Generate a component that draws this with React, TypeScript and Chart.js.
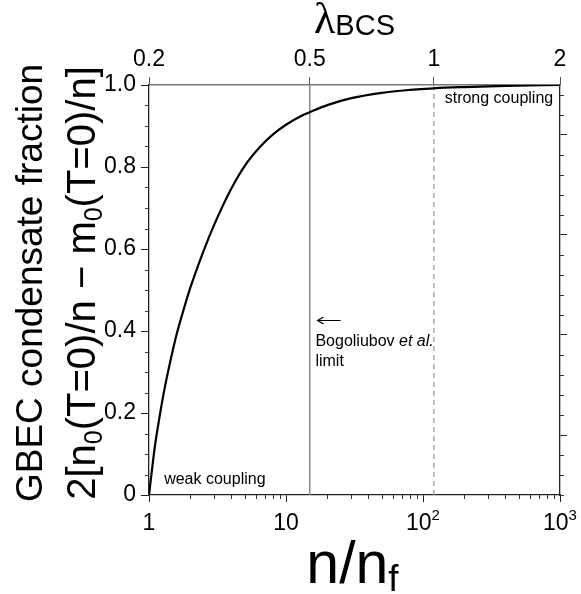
import React, { useEffect, useRef } from 'react';
import { Chart, registerables } from 'chart.js';

Chart.register(...registerables);

// ---- data ----
const nValues = [1, 1.05, 1.1, 1.2, 1.3, 1.45, 1.6, 1.8, 2, 2.5, 3, 4, 5, 6.5, 8, 10, 13, 15, 20, 30, 50, 80, 120, 200, 400, 1000];
const fraction = [0, 0.06, 0.115, 0.195, 0.26, 0.335, 0.395, 0.455, 0.505, 0.595, 0.66, 0.748, 0.803, 0.85, 0.879, 0.903, 0.925, 0.934, 0.951, 0.968, 0.981, 0.988, 0.992, 0.995, 0.998, 1.0];

const xMajorTicks = [1, 10, 100, 1000];
const xTickBase = ['1', '10', '10', '10'];
const xTickExp = ['', '', '2', '3'];
const yMajorTicks = [0, 0.2, 0.4, 0.6, 0.8, 1.0];
const yTickLabels = ['0', '0.2', '0.4', '0.6', '0.8', '1.0'];
const yMinorStep = 0.05;
const lambdaTicks = [0.2, 0.5, 1, 2];
const lambdaTickN = [1, 14.9, 120, 1000];
const rightMajorTicks = [0, 1, 2, 3];
const rightMinorStep = 0.2;

const bogoliubovN = 14.9; // λ_BCS = 0.5
const strongN = 120; // λ_BCS = 1

const SANS = '"Liberation Sans", Arial, sans-serif';
const SERIF = '"Liberation Serif", "DejaVu Serif", serif';

type Seg = { text: string; font: string; dy: number };

function drawSegs(ctx: CanvasRenderingContext2D, segs: Seg[], x: number, y: number, rotate: boolean, align: 'center' | 'left') {
  ctx.save();
  ctx.translate(x, y);
  if (rotate) ctx.rotate(-Math.PI / 2);
  let total = 0;
  const widths = segs.map((s) => {
    ctx.font = s.font;
    const w = ctx.measureText(s.text).width;
    total += w;
    return w;
  });
  let cx = align === 'center' ? -total / 2 : 0;
  ctx.textAlign = 'left';
  ctx.textBaseline = 'alphabetic';
  segs.forEach((s, i) => {
    ctx.font = s.font;
    ctx.fillText(s.text, cx, s.dy);
    cx += widths[i];
  });
  ctx.restore();
}

const decorPlugin = {
  id: 'decor',
  afterDraw(chart: any) {
    const ctx: CanvasRenderingContext2D = chart.ctx;
    const xs = chart.scales.x;
    const ys = chart.scales.y;
    const y2 = chart.scales.y2;
    const area = chart.chartArea;
    ctx.save();
    ctx.strokeStyle = '#333';
    ctx.lineWidth = 1;
    ctx.beginPath();
    // left minor ticks
    for (let v = 0; v <= 1.0001; v += yMinorStep) {
      if (yMajorTicks.some((m) => Math.abs(m - v) < 1e-6)) continue;
      const py = Math.round(ys.getPixelForValue(v)) + 0.5;
      ctx.moveTo(area.left - 4, py);
      ctx.lineTo(area.left, py);
    }
    // bottom minor ticks (log)
    for (let d = 0; d < 3; d++) {
      for (let k = 2; k <= 9; k++) {
        const v = k * Math.pow(10, d);
        const px = Math.round(xs.getPixelForValue(v)) + 0.5;
        ctx.moveTo(px, area.bottom);
        ctx.lineTo(px, area.bottom + 4);
      }
    }
    // right minor ticks
    for (let v = y2.min; v <= y2.max + 1e-6; v += rightMinorStep) {
      const r = Math.round(v * 10) / 10;
      if (rightMajorTicks.some((m) => Math.abs(m - r) < 1e-6)) continue;
      const py = Math.round(y2.getPixelForValue(r)) + 0.5;
      ctx.moveTo(area.right, py);
      ctx.lineTo(area.right + 4, py);
    }
    ctx.stroke();

    ctx.fillStyle = '#000';
    // bottom tick labels with superscripts
    xMajorTicks.forEach((v, i) => {
      const segs: Seg[] = [{ text: xTickBase[i], font: `23px ${SANS}`, dy: 0 }];
      if (xTickExp[i]) segs.push({ text: xTickExp[i], font: `15px ${SANS}`, dy: -10 });
      drawSegs(ctx, segs, xs.getPixelForValue(v), 530, false, 'center');
    });

    // Top title λ_BCS
    const cxTitle = (area.left + area.right) / 2;
    drawSegs(ctx, [
      { text: 'λ', font: `44px ${SERIF}`, dy: 0 },
      { text: 'BCS', font: `29px ${SANS}`, dy: 2 },
    ], cxTitle, 33, false, 'center');
    // Bottom title n/n_f
    drawSegs(ctx, [
      { text: 'n/n', font: `59px ${SANS}`, dy: 0 },
      { text: 'f', font: `37px ${SANS}`, dy: 8 },
    ], cxTitle - 2, 583, false, 'center');
    // Y titles
    drawSegs(ctx, [
      { text: 'GBEC condensate fraction', font: `37px ${SANS}`, dy: 0 },
    ], 42, 283, true, 'center');
    drawSegs(ctx, [
      { text: '2[n', font: `40px ${SANS}`, dy: 0 },
      { text: '0', font: `25px ${SANS}`, dy: 7 },
      { text: '(T=0)/n − m', font: `40px ${SANS}`, dy: 0 },
      { text: '0', font: `25px ${SANS}`, dy: 7 },
      { text: '(T=0)/n]', font: `40px ${SANS}`, dy: 0 },
    ], 95, 283, true, 'center');

    // annotations
    const f16 = `16px ${SANS}`;
    drawSegs(ctx, [{ text: 'weak coupling', font: f16, dy: 0 }], xs.getPixelForValue(1.29), ys.getPixelForValue(0.027), false, 'left');
    drawSegs(ctx, [{ text: 'strong coupling', font: f16, dy: 0 }], xs.getPixelForValue(144), ys.getPixelForValue(0.956), false, 'left');
    drawSegs(ctx, [
      { text: 'Bogoliubov ', font: f16, dy: 0 },
      { text: 'et al.', font: `italic ${f16}`, dy: 0 },
    ], xs.getPixelForValue(16.4), ys.getPixelForValue(0.3625), false, 'left');
    drawSegs(ctx, [{ text: 'limit', font: f16, dy: 0 }], xs.getPixelForValue(16.4), ys.getPixelForValue(0.315), false, 'left');
    // arrow
    const ax0 = xs.getPixelForValue(17.0);
    const ax1 = xs.getPixelForValue(25.0);
    const ay = Math.round(ys.getPixelForValue(0.426)) + 0.5;
    ctx.strokeStyle = '#000';
    ctx.lineWidth = 1.2;
    ctx.beginPath();
    ctx.moveTo(ax0, ay);
    ctx.lineTo(ax1, ay);
    ctx.moveTo(ax0 + 6, ay - 3.5);
    ctx.lineTo(ax0, ay);
    ctx.lineTo(ax0 + 6, ay + 3.5);
    ctx.stroke();
    ctx.restore();
  },
};

export default function App() {
  const ref = useRef<HTMLCanvasElement | null>(null);
  useEffect(() => {
    if (!ref.current) return;
    const tickFont = { family: SANS, size: 23 };
    const chart = new Chart(ref.current, {
      type: 'line',
      data: {
        datasets: [
          {
            data: nValues.map((n, i) => ({ x: n, y: fraction[i] })),
            borderColor: '#000',
            borderWidth: 2.2,
            pointRadius: 0,
            cubicInterpolationMode: 'monotone',
            fill: false,
          },
          {
            data: [{ x: bogoliubovN, y: 0 }, { x: bogoliubovN, y: 1 }],
            borderColor: '#8a8a8a',
            borderWidth: 1.5,
            pointRadius: 0,
          },
          {
            data: [{ x: strongN, y: 0 }, { x: strongN, y: 1 }],
            borderColor: '#9a9a9a',
            borderWidth: 1.3,
            borderDash: [5, 4],
            pointRadius: 0,
          },
        ],
      },
      options: {
        responsive: false,
        animation: false,
        devicePixelRatio: 1,
        layout: { padding: 0 },
        plugins: { legend: { display: false }, tooltip: { enabled: false }, title: { display: false } },
        scales: {
          x: {
            type: 'logarithmic',
            position: 'bottom',
            min: 1,
            max: 1000,
            afterBuildTicks: (s: any) => { s.ticks = xMajorTicks.map((v) => ({ value: v })); },
            afterFit: (s: any) => { s.height = 99; },
            ticks: {
              autoSkip: false,
              maxRotation: 0,
              color: '#000',
              font: { family: SANS, size: 22 },
              padding: 4,
              callback: () => '',
            },
            grid: { drawOnChartArea: false, tickLength: 7, color: '#222', tickWidth: 1 },
            border: { color: '#222', width: 1.3 },
          },
          x2: {
            type: 'logarithmic',
            position: 'top',
            min: 1,
            max: 1000,
            afterBuildTicks: (s: any) => { s.ticks = lambdaTickN.map((v) => ({ value: v })); },
            afterFit: (s: any) => { s.height = 85; },
            ticks: {
              autoSkip: false,
              maxRotation: 0,
              color: '#000',
              font: tickFont,
              padding: 4,
              callback: (_v: any, i: number) => String(lambdaTicks[i]),
            },
            grid: { drawOnChartArea: false, tickLength: 8, color: '#555', tickWidth: 1 },
            border: { color: '#777', width: 1.6 },
          },
          y: {
            type: 'linear',
            position: 'left',
            min: 0,
            max: 1,
            afterBuildTicks: (s: any) => { s.ticks = yMajorTicks.map((v) => ({ value: v })); },
            afterFit: (s: any) => { s.width = 149; },
            ticks: {
              color: '#000',
              font: tickFont,
              padding: 5,
              callback: (_v: any, i: number) => yTickLabels[i],
            },
            grid: { drawOnChartArea: false, tickLength: 8, color: '#222', tickWidth: 1 },
            border: { color: '#222', width: 1.3 },
          },
          y2: {
            type: 'linear',
            position: 'right',
            min: -0.6,
            max: 3.5,
            afterBuildTicks: (s: any) => { s.ticks = rightMajorTicks.map((v) => ({ value: v })); },
            afterFit: (s: any) => { s.width = 21; },
            ticks: { display: false },
            grid: { drawOnChartArea: false, tickLength: 7, color: '#222', tickWidth: 1 },
            border: { color: '#222', width: 1.3 },
          },
        },
      },
      plugins: [decorPlugin],
    } as any);
    return () => chart.destroy();
  }, []);
  return (
    <div style={{ position: 'absolute', left: 0, top: 0, width: 581, height: 594, background: '#fff' }}>
      <canvas ref={ref} width={581} height={594} style={{ display: 'block' }} />
    </div>
  );
}
